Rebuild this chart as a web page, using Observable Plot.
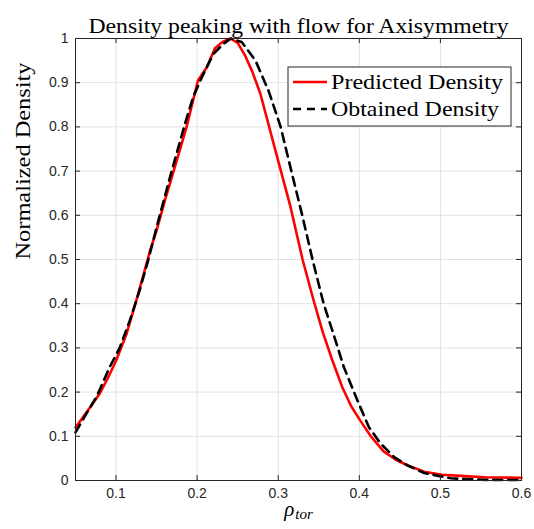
<!DOCTYPE html>
<html><head><meta charset="utf-8">
<script src="https://cdn.jsdelivr.net/npm/d3@7"></script>
<script src="https://cdn.jsdelivr.net/npm/@observablehq/plot@0.6"></script>
<style>body{margin:0;background:#fff}</style>
</head><body><div id="chart"></div>
<script>
const predictedX = [0.05,0.065,0.08,0.09,0.10,0.113,0.125,0.142,0.15,0.16,0.171,0.187,0.201,0.212,0.222,0.232,0.241,0.25,0.259,0.268,0.278,0.2965,0.315,0.33,0.344,0.355,0.3667,0.379,0.39,0.401,0.415,0.43,0.445,0.46,0.48,0.502,0.53,0.555,0.6];
const predictedY = [0.12,0.158,0.197,0.232,0.271,0.332,0.407,0.52,0.566,0.632,0.70,0.80,0.905,0.935,0.978,0.993,1.0,0.99,0.962,0.925,0.875,0.747,0.62,0.50,0.405,0.335,0.272,0.211,0.168,0.136,0.098,0.066,0.047,0.034,0.020,0.013,0.010,0.0075,0.006];
const obtainedX = [0.05,0.063,0.0756,0.092,0.1045,0.117,0.129,0.1396,0.15,0.1665,0.185,0.195,0.2057,0.22,0.2325,0.2416,0.255,0.272,0.288,0.303,0.313,0.3296,0.342,0.356,0.3687,0.381,0.3977,0.412,0.4266,0.443,0.4596,0.48,0.513,0.555,0.6];
const obtainedY = [0.109,0.15,0.188,0.256,0.30,0.362,0.43,0.498,0.573,0.686,0.807,0.867,0.912,0.965,0.988,1.0,0.992,0.95,0.882,0.80,0.724,0.60,0.502,0.40,0.328,0.256,0.181,0.12,0.083,0.053,0.034,0.017,0.005,0.0015,0.001];
const xTicks = [0.1,0.2,0.3,0.4,0.5,0.6];
const yTicks = [0,0.1,0.2,0.3,0.4,0.5,0.6,0.7,0.8,0.9,1];
const seriesNames = ["Predicted Density","Obtained Density"];
const titleText = "Density peaking with flow for Axisymmetry";
const yLabelText = "Normalized Density";
const xLabelMain = "ρ";
const xLabelSub = "tor";

const predicted = predictedX.map((x,i)=>({x, y: predictedY[i]}));
const obtained = obtainedX.map((x,i)=>({x, y: obtainedY[i]}));

const serif = "'Liberation Serif','DejaVu Serif',serif";
const sans = "'Liberation Sans',Arial,sans-serif";
const W=534, H=529, mL=75, mR=13, mT=38, mB=49;
const fw = W-mL-mR, fh = H-mT-mB;
const axisColor = "#262626";
const fmt = d => String(d);

const plot = Plot.plot({
  width: W, height: H,
  marginLeft: mL, marginRight: mR, marginTop: mT, marginBottom: mB,
  style: {background:"white", fontFamily: sans, color: axisColor},
  x: {domain:[0.05,0.6]},
  y: {domain:[0,1]},
  marks: [
    Plot.gridX(xTicks, {stroke:"#e2e2e2", strokeOpacity:1}),
    Plot.gridY(yTicks, {stroke:"#e2e2e2", strokeOpacity:1}),
    Plot.line(predicted, {x:"x", y:"y", stroke:"#ff0000", strokeWidth:2.6}),
    Plot.line(obtained, {x:"x", y:"y", stroke:"#000000", strokeWidth:2.6, strokeDasharray:"9,6"}),
    Plot.frame({stroke: axisColor}),
    Plot.tickX(xTicks, {x: d=>d, stroke: axisColor, insetTop: fh-5}),
    Plot.tickX(xTicks, {x: d=>d, stroke: axisColor, insetBottom: fh-5}),
    Plot.tickY(yTicks, {y: d=>d, stroke: axisColor, insetRight: fw-5}),
    Plot.tickY(yTicks, {y: d=>d, stroke: axisColor, insetLeft: fw-5}),
    Plot.axisX(xTicks, {tickSize:0, tickPadding:8, fontSize:14, label:null, fill: axisColor, tickFormat: fmt}),
    Plot.axisY(yTicks, {tickSize:0, tickPadding:7, fontSize:14, label:null, fill: axisColor, tickFormat: fmt}),
    Plot.text([titleText], {frameAnchor:"top", dy:-20, fontFamily: serif, fontSize:21, fill:"#000"}),
    Plot.text([yLabelText], {frameAnchor:"left", rotate:-90, dx:-52, fontFamily: serif, fontSize:21, fill:"#000"}),
    Plot.text([xLabelMain], {frameAnchor:"bottom", textAnchor:"middle", dy:35, fontFamily: serif, fontStyle:"italic", fontSize:21, fill:"#000"})
  ]
});

const svg = d3.select(plot);
svg.selectAll("text").each(function() {
  const t = d3.select(this);
  const s = t.text();
  if (s === titleText) t.attr("textLength", 420).attr("lengthAdjust", "spacingAndGlyphs");
  if (s === yLabelText) t.attr("textLength", 197).attr("lengthAdjust", "spacingAndGlyphs");
  if (s === xLabelMain) {
    t.append("tspan").attr("dy", "0.25em").attr("dx", "1").attr("font-size", 15).text(xLabelSub);
  }
});

// legend
const lg = svg.append("g").attr("text-anchor", "start");
const lx = 288, ly = 67, lw = 223, lh = 59;
lg.append("rect").attr("x", lx).attr("y", ly).attr("width", lw).attr("height", lh)
  .attr("fill", "white").attr("stroke", axisColor).attr("stroke-width", 1);
const styles = [{stroke:"#ff0000", dash:null}, {stroke:"#000000", dash:"8,6"}];
seriesNames.forEach((name, i) => {
  const cy = ly + 15 + i*27;
  const ln = lg.append("line").attr("x1", lx+5).attr("x2", lx+39).attr("y1", cy).attr("y2", cy)
    .attr("stroke", styles[i].stroke).attr("stroke-width", 2.6);
  if (styles[i].dash) ln.attr("stroke-dasharray", styles[i].dash);
  lg.append("text").attr("x", lx+43).attr("y", cy).attr("dy", "0.35em")
    .attr("text-anchor", "start")
    .attr("font-family", serif).attr("font-size", 21).attr("fill", "#000")
    .attr("textLength", i === 0 ? 172 : 168).attr("lengthAdjust", "spacingAndGlyphs")
    .text(name);
});

document.getElementById("chart").appendChild(plot);
</script>
</body></html>
